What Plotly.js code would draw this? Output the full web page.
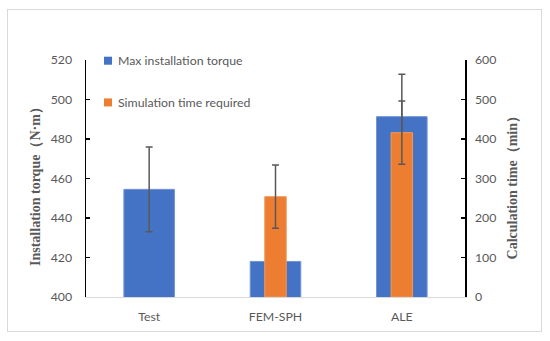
<!DOCTYPE html>
<html>
<head>
<meta charset="utf-8">
<script src="https://cdn.plot.ly/plotly-3.0.1.min.js"></script>
<style>
html,body{margin:0;padding:0;background:#fff;}
#chart{width:550px;height:341px;position:relative;}
#frame{position:absolute;left:7px;top:9px;width:535px;height:323px;border:1px solid #d9d9d9;box-sizing:border-box;pointer-events:none;}
</style>
</head>
<body>
<div id="chart"><div id="frame"></div></div>
<script>
const categories = ["Test", "FEM-SPH", "ALE"];
const torque = [454.5, 418, 491.3];
const torqueErr = [21.5, 21.5, 21.5];
const simTime = [null, 254, 416];
const simTimeErr = [80, 80, 80];
const seriesNames = ["Max installation torque", "Simulation time required"];
const seriesColors = ["#4472C4", "#ED7D31"];
const leftTitle = "Installation torque（N·m）";
const rightTitle = "Calculation time（min）";

const traces = [
  {
    type: "bar", name: seriesNames[0], x: categories, y: torque,
    yaxis: "y", width: 0.4,
    marker: {color: seriesColors[0], line: {color: "#6f93d6", width: 1}},
    error_y: {type: "data", array: torqueErr, visible: true, color: "#595959", thickness: 1.5, width: 3.5}
  },
  {
    type: "bar", name: seriesNames[1], x: categories, y: simTime,
    yaxis: "y2", width: 0.17,
    marker: {color: seriesColors[1], line: {color: "#f09a5c", width: 1}},
    error_y: {type: "data", array: simTimeErr, visible: true, color: "#595959", thickness: 1.5, width: 3.5}
  }
];

// legend drawn as squares + text annotations (paper coords)
const legY = [0.997, 0.821];
const shapes = legY.map((y, i) => ({
  type: "rect", xref: "paper", yref: "paper",
  x0: 0.0475, x1: 0.0686, y0: y - 0.0169, y1: y + 0.0169,
  fillcolor: seriesColors[i], line: {width: 0}
}));
const titleFont = {family: "'Liberation Serif', 'Times New Roman', serif", size: 14, color: "#595959", weight: "bold"};
const annotations = legY.map((y, i) => ({
  xref: "paper", yref: "paper", x: 0.0792, y: y, xanchor: "left", yanchor: "middle",
  text: seriesNames[i], showarrow: false, font: {size: 12.3, color: "#595959"}
})).concat([
  {xref: "paper", yref: "paper", x: -0.1346, y: 0.481, xanchor: "center", yanchor: "middle",
   textangle: -90, text: leftTitle, showarrow: false, font: titleFont},
  {xref: "paper", yref: "paper", x: 1.124, y: 0.479, xanchor: "center", yanchor: "middle",
   textangle: -90, text: rightTitle, showarrow: false, font: titleFont}
]);

const layout = {
  width: 550, height: 341,
  margin: {l: 86, r: 85, t: 60, b: 44},
  paper_bgcolor: "rgba(0,0,0,0)", plot_bgcolor: "rgba(0,0,0,0)",
  barmode: "overlay",
  font: {family: "Lato, 'Open Sans', sans-serif", size: 12, color: "#595959"},
  showlegend: false,
  shapes: shapes,
  annotations: annotations,
  xaxis: {
    showline: true, linecolor: "#d9d9d9", linewidth: 1, showgrid: false, zeroline: false,
    ticks: "", ticklabelstandoff: 8, tickfont: {size: 12.3, color: "#595959"}
  },
  yaxis: {
    range: [400, 520], dtick: 20, showline: true, linecolor: "#000", linewidth: 1.5,
    ticks: "inside", ticklen: 4, tickcolor: "#000", tickwidth: 1.2, ticklabelstandoff: 10,
    showgrid: false, zeroline: false, tickfont: {size: 12.3, color: "#595959"}
  },
  yaxis2: {
    range: [0, 600], dtick: 100, overlaying: "y", side: "right",
    showline: true, linecolor: "#000", linewidth: 1.5,
    ticks: "inside", ticklen: 4, tickcolor: "#000", tickwidth: 1.2, ticklabelstandoff: 6,
    showgrid: false, zeroline: false, tickfont: {size: 12.3, color: "#595959"}
  }
};

Plotly.newPlot("chart", traces, layout, {displayModeBar: false, staticPlot: true}).then(function(){
  const f = document.getElementById("frame");
  document.getElementById("chart").appendChild(f);
});
</script>
</body>
</html>
